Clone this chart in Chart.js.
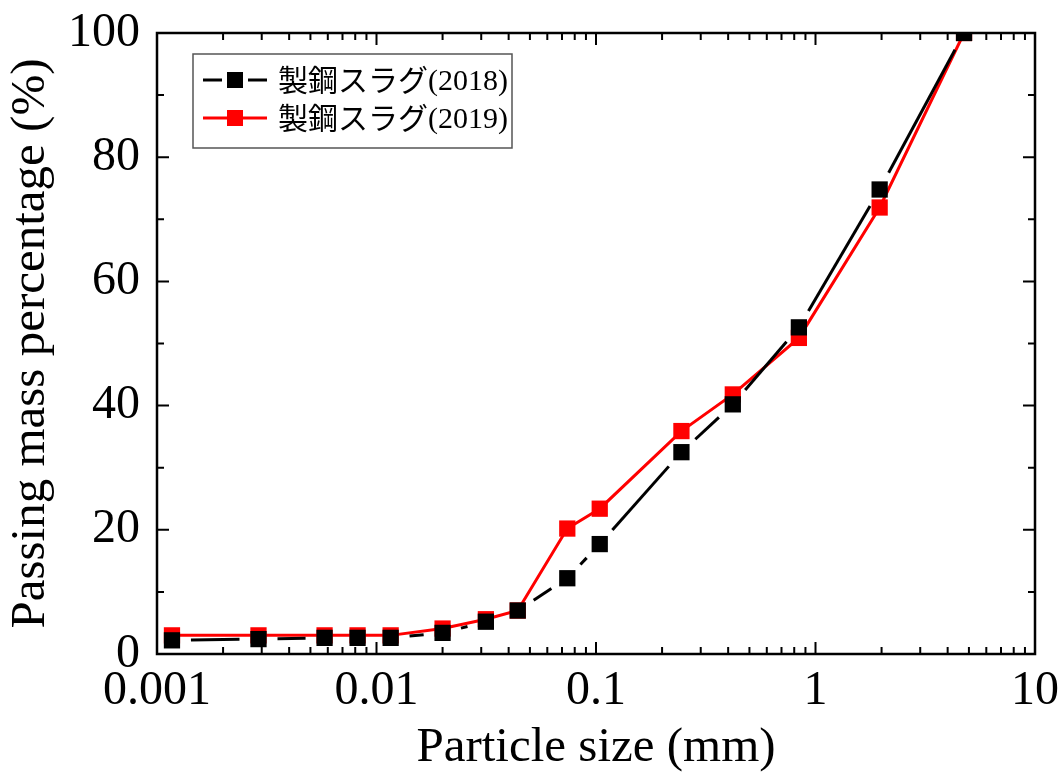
<!DOCTYPE html>
<html>
<head>
<meta charset="utf-8">
<script src="https://cdn.jsdelivr.net/npm/chart.js@4/dist/chart.umd.min.js"></script>
<style>
  html, body { margin: 0; padding: 0; background: #fff; }
  #wrap { width: 1064px; height: 774px; }
</style>
</head>
<body>
<div id="wrap"><canvas id="psd" width="1064" height="774"></canvas></div>
<script>
// 粒径 (mm)
const particleSizes = [0.00117, 0.0029, 0.0058, 0.0082, 0.0116, 0.020, 0.0315, 0.044, 0.074, 0.104, 0.245, 0.42, 0.84, 1.96, 4.75];
// 通過質量百分率 (%)
const slag2018 = [2.2, 2.4, 2.6, 2.6, 2.6, 3.4, 5.2, 7.0, 12.2, 17.7, 32.5, 40.2, 52.6, 74.8, 100];
const slag2019 = [3.0, 3.0, 3.0, 3.0, 3.0, 4.1, 5.6, 7.0, 20.2, 23.4, 35.9, 41.8, 50.9, 71.9, 100];

const seriesLabels = ['製鋼スラグ(2018)', '製鋼スラグ(2019)'];
const xTickValues = [0.001, 0.01, 0.1, 1, 10];
const xTickLabels = ['0.001', '0.01', '0.1', '1', '10'];
const yTickValues = [0, 20, 40, 60, 80, 100];

const SERIF = "'Liberation Serif', 'Times New Roman', serif";
const CJK = "'Noto Sans CJK JP', 'Noto Sans', sans-serif";
const GAP = 19; // 2018 系列: 記号の前後で線を切る

// 線の両端を GAP だけ空ける
function gapDash(ctx) {
    const L = Math.hypot(ctx.p1.x - ctx.p0.x, ctx.p1.y - ctx.p0.y);
    if (L <= 2 * GAP) return [0, L + 1];
    return [L - 2 * GAP, 2 * GAP];
}
function gapOffset(ctx) {
    const L = Math.hypot(ctx.p1.x - ctx.p0.x, ctx.p1.y - ctx.p0.y);
    return L <= 2 * GAP ? 0 : L - GAP;
}

// 枠・内向き目盛・凡例
const framePlugin = {
    id: 'frame',
    afterDatasetsDraw(chart) {
        const { ctx, chartArea: a, scales } = chart;
        ctx.save();
        ctx.strokeStyle = '#000';
        ctx.lineWidth = 2;
        ctx.beginPath();
        // x 目盛 (上下)
        for (let e = -3; e <= 1; e++) {
            for (let m = 1; m <= 9; m++) {
                const v = m * Math.pow(10, e);
                if (v > 10) break;
                const px = scales.x.getPixelForValue(v);
                const len = m === 1 ? 12 : 7;
                ctx.moveTo(px, a.bottom); ctx.lineTo(px, a.bottom - len);
                ctx.moveTo(px, a.top); ctx.lineTo(px, a.top + len);
            }
        }
        // y 目盛 (左右)
        for (let v = 0; v <= 100; v += 10) {
            const py = scales.y.getPixelForValue(v);
            const len = v % 20 === 0 ? 12 : 7;
            ctx.moveTo(a.left, py); ctx.lineTo(a.left + len, py);
            ctx.moveTo(a.right, py); ctx.lineTo(a.right - len, py);
        }
        ctx.stroke();
        ctx.lineWidth = 2.5;
        ctx.strokeRect(a.left, a.top, a.right - a.left, a.bottom - a.top);
        ctx.restore();
    },
    afterDraw(chart) {
        const { ctx } = chart;
        const box = { x: 193, y: 54, w: 319, h: 94 };
        ctx.save();
        ctx.fillStyle = '#fff';
        ctx.fillRect(box.x, box.y, box.w, box.h);
        ctx.strokeStyle = '#555';
        ctx.lineWidth = 1.5;
        ctx.strokeRect(box.x, box.y, box.w, box.h);
        chart.data.datasets.forEach((ds, i) => {
            const y = 80 + i * 38;
            const x0 = 203, x1 = 267, cx = 235;
            ctx.strokeStyle = ds.borderColor;
            ctx.lineWidth = 3;
            ctx.beginPath();
            if (i === 0) {
                ctx.moveTo(x0, y); ctx.lineTo(cx - 13, y);
                ctx.moveTo(cx + 13, y); ctx.lineTo(x1, y);
            } else {
                ctx.moveTo(x0, y); ctx.lineTo(x1, y);
            }
            ctx.stroke();
            ctx.fillStyle = ds.pointBackgroundColor;
            ctx.fillRect(cx - 8, y - 8, 16, 16);
            const [name, year] = ds.label.split('(');
            ctx.fillStyle = '#000';
            ctx.textBaseline = 'middle';
            ctx.font = '30px ' + CJK;
            ctx.fillText(name, 278, y);
            const w = ctx.measureText(name).width;
            ctx.font = '30px ' + SERIF;
            ctx.fillText('(' + year, 278 + w, y + 2);
        });
        ctx.restore();
    }
};

new Chart(document.getElementById('psd'), {
    type: 'line',
    data: {
        datasets: [
            {
                label: seriesLabels[0],
                data: particleSizes.map((x, i) => ({ x: x, y: slag2018[i] })),
                borderColor: '#000000',
                borderWidth: 3,
                pointStyle: 'rect',
                pointRadius: 11.5,
                pointBackgroundColor: '#000000',
                pointBorderWidth: 0,
                segment: { borderDash: gapDash, borderDashOffset: gapOffset }
            },
            {
                label: seriesLabels[1],
                data: particleSizes.map((x, i) => ({ x: x, y: slag2019[i] })),
                borderColor: '#ff0000',
                borderWidth: 3,
                pointStyle: 'rect',
                pointRadius: 11.5,
                pointBackgroundColor: '#ff0000',
                pointBorderWidth: 0
            }
        ]
    },
    options: {
        responsive: false,
        animation: false,
        layout: { padding: { top: 33, right: 29, left: 0, bottom: 0 } },
        plugins: { legend: { display: false }, tooltip: { enabled: false } },
        scales: {
            x: {
                type: 'logarithmic',
                min: 0.001,
                max: 10,
                afterBuildTicks: s => { s.ticks = xTickValues.map(v => ({ value: v })); },
                afterFit: s => {
                    s.height = 120;
                    s.paddingLeft = 0;
                    s.paddingRight = 0;
                },
                ticks: {
                    autoSkip: false,
                    maxRotation: 0,
                    padding: 9,
                    color: '#000',
                    font: { family: SERIF, size: 48 },
                    callback: (v) => xTickLabels[xTickValues.indexOf(v)] || ''
                },
                grid: { display: false, drawTicks: false },
                border: { display: false },
                title: {
                    display: true,
                    text: 'Particle size (mm)',
                    color: '#000',
                    font: { family: SERIF, size: 49 },
                    padding: { top: 0, bottom: -4 }
                }
            },
            y: {
                min: 0,
                max: 100,
                afterBuildTicks: s => { s.ticks = yTickValues.map(v => ({ value: v })); },
                afterFit: s => {
                    s.width = 157;
                    s.paddingTop = 0;
                    s.paddingBottom = 0;
                },
                ticks: {
                    padding: 17,
                    color: '#000',
                    font: { family: SERIF, size: 48 }
                },
                grid: { display: false, drawTicks: false },
                border: { display: false },
                title: {
                    display: true,
                    text: 'Passing mass percentage (%)',
                    color: '#000',
                    font: { family: SERIF, size: 49 },
                    padding: { top: 2, bottom: 0 }
                }
            }
        }
    },
    plugins: [framePlugin]
});
</script>
</body>
</html>
